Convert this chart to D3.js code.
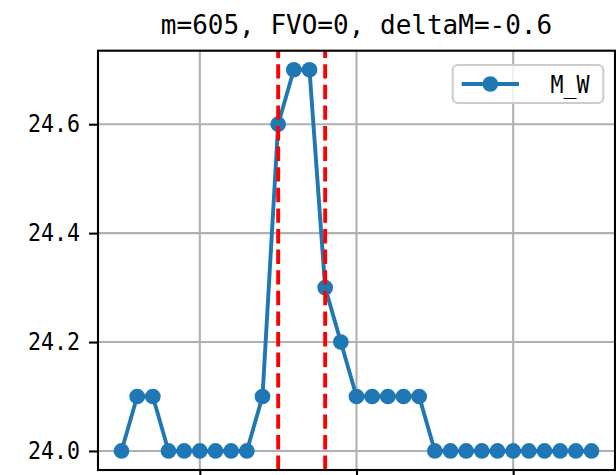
<!DOCTYPE html>
<html>
<head>
<meta charset="utf-8">
<script src="https://cdn.jsdelivr.net/npm/d3@7"></script>
<style>
  html, body { margin: 0; padding: 0; background: #fff; }
  svg { display: block; }
</style>
</head>
<body>
<svg id="chart" width="616" height="475"></svg>
<script>
// ---- data ----
const xValues = [0,1,2,3,4,5,6,7,8,9,10,11,12,13,14,15,16,17,18,19,20,21,22,23,24,25,26,27,28,29,30];
const mW = [24.0,24.1,24.1,24.0,24.0,24.0,24.0,24.0,24.0,24.1,24.6,24.7,24.7,24.3,24.2,24.1,24.1,24.1,24.1,24.1,24.0,24.0,24.0,24.0,24.0,24.0,24.0,24.0,24.0,24.0,24.0];
const xTicks = [5, 15, 25];
const yTicks = [24.0, 24.2, 24.4, 24.6];
const vLines = [10, 13];
const titleText = "m=605, FVO=0, deltaM=-0.6";
const seriesName = "M_W";

// ---- layout ----
const L = 98, R = 615, T = 50.7, B = 470;
const svg = d3.select("#chart");
const FONT = "'DejaVu Sans Mono', 'Liberation Mono', monospace";

const xMin = d3.min(xValues), xMax = d3.max(xValues);
const xPad = (xMax - xMin) * 0.05;
const x = d3.scaleLinear().domain([xMin - xPad, xMax + xPad]).range([L, R]);
const yMin = d3.min(mW), yMax = d3.max(mW);
const yPad = (yMax - yMin) * 0.05;
const y = d3.scaleLinear().domain([yMin - yPad, yMax + yPad]).range([B, T]);

// grid
const grid = svg.append("g");
grid.selectAll("line.gx").data(xTicks).enter().append("line")
  .attr("x1", d => x(d)).attr("x2", d => x(d)).attr("y1", T).attr("y2", B)
  .attr("stroke", "#b0b0b0").attr("stroke-width", 2.1);
grid.selectAll("line.gy").data(yTicks).enter().append("line")
  .attr("x1", L).attr("x2", R).attr("y1", d => y(d)).attr("y2", d => y(d))
  .attr("stroke", "#b0b0b0").attr("stroke-width", 2.1);

// data line + markers
const blue = "#1f77b4";
svg.append("path")
  .datum(xValues.map((v, i) => [v, mW[i]]))
  .attr("fill", "none").attr("stroke", blue).attr("stroke-width", 3.9)
  .attr("stroke-linejoin", "round").attr("stroke-linecap", "butt")
  .attr("d", d3.line().x(d => x(d[0])).y(d => y(d[1])));
svg.append("g").selectAll("circle").data(xValues).enter().append("circle")
  .attr("cx", (d) => x(d)).attr("cy", (d, i) => y(mW[i])).attr("r", 7.85)
  .attr("fill", blue);

// red dashed vertical lines (dash starts at bottom)
svg.append("g").selectAll("line").data(vLines).enter().append("line")
  .attr("x1", d => x(d)).attr("x2", d => x(d)).attr("y1", B).attr("y2", T)
  .attr("stroke", "#ff0000").attr("stroke-width", 3.9)
  .attr("stroke-dasharray", "14.4,6.2");

// axes
const yAxis = d3.axisLeft(y).tickValues(yTicks).tickFormat(d3.format(".1f"))
  .tickSize(9).tickPadding(9);
const gy = svg.append("g").attr("transform", `translate(${L},0)`).call(yAxis);
gy.select(".domain").remove();
gy.selectAll(".tick line").attr("stroke", "#000").attr("stroke-width", 2.1);
gy.selectAll(".tick text").attr("font-family", FONT).attr("font-size", 21.6)
  .attr("fill", "#000").attr("transform", "scale(1,1.12)");

const xAxis = d3.axisBottom(x).tickValues(xTicks).tickFormat("").tickSize(9);
const gx = svg.append("g").attr("transform", `translate(0,${B})`).call(xAxis);
gx.select(".domain").remove();
gx.selectAll(".tick line").attr("stroke", "#000").attr("stroke-width", 2.1);

// frame
svg.append("rect").attr("x", L).attr("y", T).attr("width", R - L).attr("height", B - T)
  .attr("fill", "none").attr("stroke", "#000").attr("stroke-width", 2.1);

// title
svg.append("text").attr("x", (L + R) / 2).attr("y", 33.5)
  .attr("text-anchor", "middle").attr("font-family", FONT).attr("font-size", 26)
  .attr("fill", "#000").text(titleText);

// legend
const lg = svg.append("g");
lg.append("rect").attr("x", 452.7).attr("y", 65).attr("width", 150.6).attr("height", 38)
  .attr("rx", 5).attr("ry", 5)
  .attr("fill", "#fff").attr("fill-opacity", 0.8)
  .attr("stroke", "#cccccc").attr("stroke-width", 2.1);
lg.append("line").attr("x1", 461.7).attr("x2", 519).attr("y1", 84).attr("y2", 84)
  .attr("stroke", blue).attr("stroke-width", 3.9);
lg.append("circle").attr("cx", 490.3).attr("cy", 84).attr("r", 7.85).attr("fill", blue);
lg.append("g").attr("transform", "translate(550.5,84) scale(1,1.12)")
  .append("text").attr("x", 0).attr("y", 0).attr("dy", "0.36em")
  .attr("font-family", FONT).attr("font-size", 21.6).attr("fill", "#000")
  .text(seriesName);
</script>
</body>
</html>
